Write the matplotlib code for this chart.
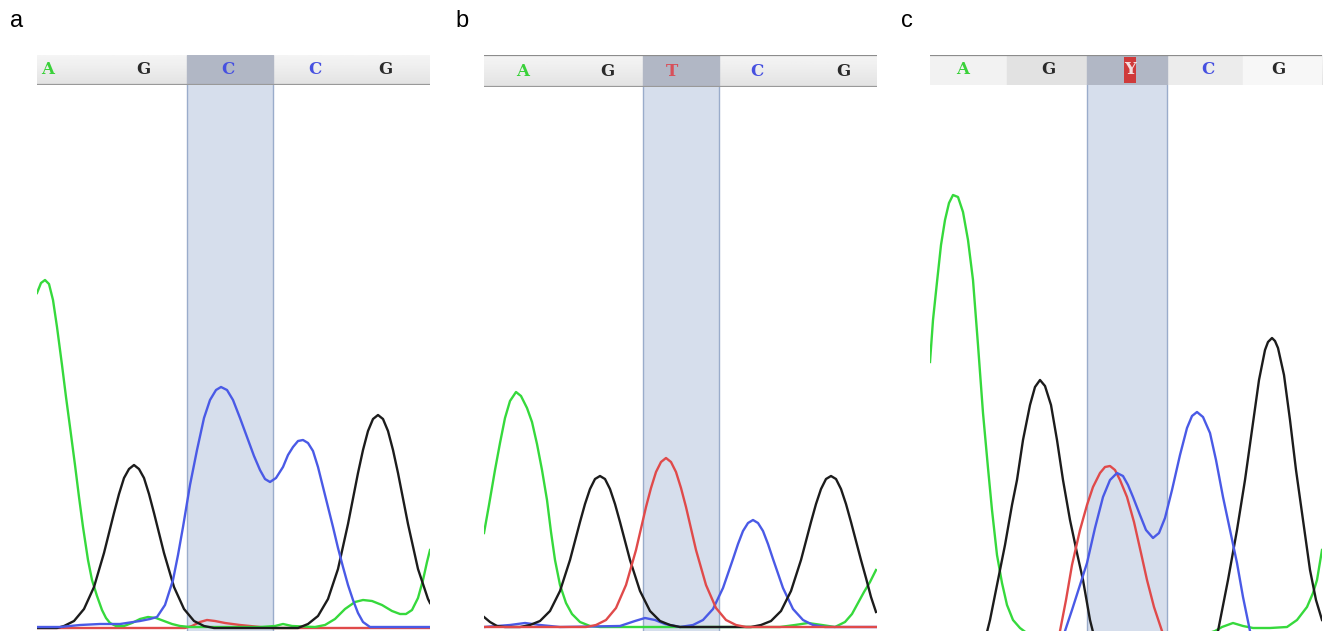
import numpy as np
import matplotlib.pyplot as plt
from matplotlib.patches import Rectangle

# ---- panel a : wild type, C at the selected position ----
a_green_x = [0, 4, 8, 12, 16, 20, 25, 29, 33, 38, 42, 46, 51, 55, 60, 65, 69, 73, 79, 87, 95, 103, 111,
             119, 127, 135, 143, 153, 193, 223, 238, 246, 255, 278, 288, 298, 308, 318, 326, 335, 345,
             355, 363, 369, 375, 381, 386, 390, 393]
a_green_y = [335, 345, 348, 344, 328, 301, 263, 231, 201, 163, 131, 101, 68, 48, 32, 18, 10, 5, 2, 2, 5, 9,
             11, 10, 7, 4, 2, 1, 1, 1, 2, 4, 2, 1, 3, 9, 19, 26, 28, 27, 23, 17, 14, 14, 18, 30, 48, 66, 78]
a_black_x = [0, 20, 27, 37, 47, 57, 67, 77, 82, 87, 92, 97, 102, 107, 112, 117, 127, 137, 147, 157, 167,
             177, 261, 271, 281, 291, 301, 311, 321, 326, 331, 336, 341, 346, 351, 356, 361, 371, 381,
             391, 393]
a_black_y = [0, 0, 2, 7, 19, 41, 75, 115, 134, 150, 159, 163, 159, 150, 134, 115, 75, 41, 19, 7, 2, 0, 0,
             4, 12, 29, 59, 104, 155, 178, 197, 209, 213, 209, 197, 178, 155, 104, 59, 29, 25]
a_blue_x = [0, 23, 43, 63, 83, 103, 113, 120, 128, 136, 141, 146, 153, 160, 167, 173, 179, 184, 190, 196,
            203, 210, 217, 223, 228, 233, 239, 246, 251, 256, 261, 266, 271, 276, 281, 286, 291, 296, 301,
            306, 311, 316, 321, 326, 333, 393]
a_blue_y = [1, 1, 3, 4, 4, 7, 9, 11, 23, 48, 73, 101, 143, 178, 210, 228, 238, 241, 238, 228, 210, 191, 172,
            158, 149, 146, 150, 161, 173, 181, 187, 188, 185, 177, 161, 141, 121, 101, 80, 61, 43, 28, 15,
            6, 1, 1]
a_red_x = [0, 148, 155, 163, 170, 178, 188, 203, 223, 236, 393]
a_red_y = [0, 0, 2, 6, 8, 7, 5, 3, 1, 0, 0]
a_bases = ['A', 'G', 'C', 'C', 'G']
a_base_pos = [11, 106, 191, 278, 348]
a_selected = [150, 236]

# ---- panel b : homozygous T ----
b_green_x = [0, 5, 11, 16, 21, 26, 32, 37, 43, 48, 53, 58, 63, 67, 71, 76, 82, 88, 96, 106, 116, 296, 311,
             324, 338, 351, 361, 368, 374, 380, 386, 392]
b_green_y = [94, 122, 157, 184, 209, 226, 235, 231, 219, 205, 183, 157, 127, 95, 67, 42, 24, 13, 5, 1, 0,
             0, 2, 4, 2, 0, 5, 13, 24, 35, 45, 57]
b_black_x = [0, 6, 13, 21, 36, 46, 56, 66, 76, 86, 96, 101, 106, 111, 116, 121, 126, 131, 136, 146, 156,
             166, 176, 186, 196, 267, 277, 287, 297, 307, 317, 327, 332, 337, 342, 347, 352, 357, 362,
             367, 377, 382, 387, 392]
b_black_y = [10, 5, 1, 0, 0, 2, 6, 16, 36, 67, 105, 123, 138, 148, 151, 148, 138, 123, 105, 67, 36, 16, 6,
             2, 0, 0, 2, 6, 16, 36, 67, 105, 123, 138, 148, 151, 148, 138, 123, 105, 67, 49, 30, 15]
b_red_x = [0, 102, 112, 122, 132, 142, 152, 162, 167, 172, 177, 182, 187, 192, 197, 202, 212, 222, 232,
           242, 252, 262, 392]
b_red_y = [0, 0, 2, 7, 19, 42, 77, 120, 139, 155, 165, 169, 165, 155, 139, 120, 77, 42, 19, 7, 2, 0, 0]
b_blue_x = [0, 26, 41, 56, 76, 136, 151, 161, 171, 181, 196, 209, 219, 229, 239, 249, 254, 259, 264, 269,
            274, 279, 284, 289, 299, 309, 319, 329, 341, 392]
b_blue_y = [0, 2, 4, 2, 0, 1, 6, 9, 7, 3, 0, 2, 7, 18, 39, 68, 83, 96, 104, 107, 104, 96, 83, 68, 39, 18,
            7, 2, 0, 0]
b_bases = ['A', 'G', 'T', 'C', 'G']
b_base_pos = [39, 123, 188, 273, 359]
b_selected = [159, 235]

# ---- panel c : heterozygous C/T (Y) ----
c_green_x = [0, 3, 7, 11, 15, 19, 23, 28, 33, 38, 43, 48, 53, 58, 62, 67, 72, 77, 83, 90, 98, 110, 170,
             270, 285, 292, 303, 313, 323, 340, 357, 367, 377, 383, 387, 392]
c_green_y = [288, 330, 368, 405, 430, 447, 455, 453, 438, 410, 370, 305, 237, 182, 140, 95, 67, 45, 30, 22,
             16, 12, 10, 14, 19, 23, 27, 24, 22, 22, 23, 30, 43, 57, 70, 100]
c_black_x = [45, 55, 60, 68, 75, 82, 87, 93, 100, 105, 110, 115, 121, 127, 133, 140, 147, 153, 160, 165,
             175, 278, 288, 298, 307, 315, 322, 329, 335, 338, 342, 345, 348, 354, 360, 366, 373, 380,
             386, 392]
c_black_y = [0, 10, 30, 70, 105, 145, 170, 210, 245, 263, 270, 264, 245, 210, 170, 130, 97, 70, 30, 10, 0,
             0, 19, 70, 120, 170, 220, 270, 300, 308, 312, 309, 302, 275, 230, 180, 130, 80, 50, 30]
c_red_x = [125, 130, 136, 142, 150, 157, 163, 170, 175, 180, 185, 190, 197, 204, 211, 217, 224, 232, 240]
c_red_y = [0, 19, 50, 85, 120, 145, 163, 177, 183, 184, 180, 170, 153, 128, 97, 70, 43, 19, 0]
c_blue_x = [130, 135, 142, 150, 157, 165, 173, 180, 187, 193, 198, 203, 210, 216, 223, 229, 235, 242, 250,
            257, 262, 267, 273, 280, 286, 293, 300, 307, 313, 320, 326]
c_blue_y = [0, 19, 40, 65, 87, 122, 153, 170, 177, 174, 165, 153, 135, 120, 112, 117, 132, 160, 195, 222,
            234, 238, 233, 217, 190, 153, 120, 87, 53, 19, 0]
c_bases = ['A', 'G', 'Y', 'C', 'G']
c_base_pos = [33, 118, 200, 278, 348]
c_selected = [157, 237]
c_cells = [0, 77, 157, 237, 313, 392]

W, H = 1325, 631
GREEN = '#36d93c'
BLACK = '#1c1c1c'
BLUE = '#4a5ae6'
RED = '#e04a4a'
BASE_COLORS = {'A': '#3ad13a', 'G': '#2a2a2a', 'C': '#4650e0', 'T': '#d8505a', 'Y': '#f3dede'}


def px_axes(fig, left, top, right, bottom):
    return fig.add_axes([left / W, 1 - bottom / H, (right - left) / W, (bottom - top) / H])


def draw_traces(ax, width, ylim, selected, traces):
    ax.axvspan(selected[0], selected[1], facecolor='#d6deec', edgecolor='none', zorder=0)
    for edge in selected:
        ax.axvline(edge, color='#9aaccb', lw=1.0, zorder=1)
    for xs, ys, col in traces:
        ax.plot(xs, ys, color=col, lw=1.7, solid_joinstyle='round', zorder=3)
    ax.set_xlim(0, width)
    ax.set_ylim(*ylim)
    ax.axis('off')


def draw_header(ax, width, selected, bases, pos, top_line, bottom_line, cells=None):
    grad = np.linspace(0.96, 0.89, 20)[:, None]
    ax.imshow(grad, extent=[0, width, 0, 1], aspect='auto', cmap='gray', vmin=0, vmax=1,
              interpolation='bilinear', zorder=0)
    if cells is not None:
        shades = ['#f2f2f2', '#e2e2e2', None, '#ececec', '#f7f7f7']
        for i, shade in enumerate(shades):
            if shade:
                ax.axvspan(cells[i], cells[i + 1], color=shade, zorder=1)
    ax.axvspan(selected[0], selected[1], color='#b1b7c5', zorder=2)
    for b, p in zip(bases, pos):
        if b == 'Y':
            ax.add_patch(Rectangle((p - 6, 0.08), 12, 0.84, facecolor='#cf3a3a', edgecolor='none', zorder=3))
        ax.text(p, 0.5, b, ha='center', va='center', color=BASE_COLORS[b], fontsize=12,
                fontweight='bold', family='DejaVu Serif', zorder=4)
    if top_line:
        ax.axhline(1, color='#8c8c8c', lw=1.6, zorder=5)
    if bottom_line:
        ax.axhline(0, color='#999999', lw=1.6, zorder=5)
    ax.set_xlim(0, width)
    ax.set_ylim(0, 1)
    ax.axis('off')


fig = plt.figure(figsize=(W / 100, H / 100), dpi=100)

# panel a
ax = px_axes(fig, 37, 85, 430, 631)
draw_traces(ax, 393, (-3, 543), a_selected,
            [(a_red_x, a_red_y, RED), (a_green_x, a_green_y, GREEN),
             (a_black_x, a_black_y, BLACK), (a_blue_x, a_blue_y, BLUE)])
hx = px_axes(fig, 37, 55, 430, 85)
draw_header(hx, 393, a_selected, a_bases, a_base_pos, False, True)

# panel b
ax = px_axes(fig, 484, 87, 877, 631)
draw_traces(ax, 393, (-4, 540), b_selected,
            [(b_green_x, b_green_y, GREEN), (b_blue_x, b_blue_y, BLUE),
             (b_black_x, b_black_y, BLACK), (b_red_x, b_red_y, RED)])
hx = px_axes(fig, 484, 55, 877, 87)
draw_header(hx, 393, b_selected, b_bases, b_base_pos, True, True)

# panel c
ax = px_axes(fig, 930, 85, 1322, 631)
draw_traces(ax, 392, (19, 565), c_selected,
            [(c_green_x, c_green_y, GREEN), (c_black_x, c_black_y, BLACK),
             (c_red_x, c_red_y, RED), (c_blue_x, c_blue_y, BLUE)])
hx = px_axes(fig, 930, 55, 1322, 85)
draw_header(hx, 392, c_selected, c_bases, c_base_pos, True, False, cells=c_cells)

for label, x in [('a', 17), ('b', 462), ('c', 907)]:
    fig.text(x / W, 1 - 21 / H, label, fontsize=17, ha='center', va='center', family='Liberation Sans')

fig.savefig('out.png', dpi=100)
